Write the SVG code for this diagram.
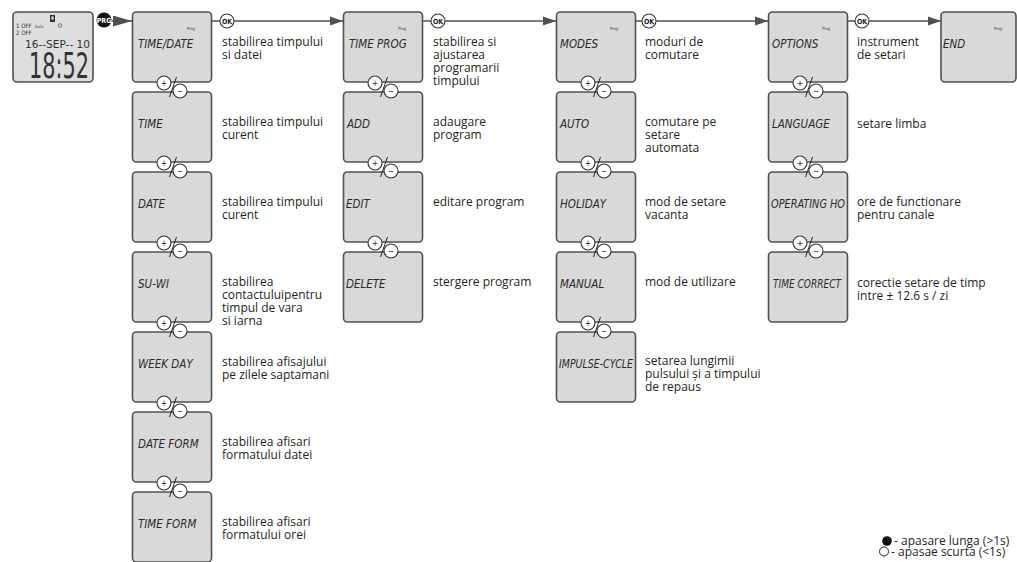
<svg xmlns="http://www.w3.org/2000/svg" xmlns:xlink="http://www.w3.org/1999/xlink" width="1017" height="562" viewBox="0 0 1017 562">
<style>
.box{fill:#d9d9d9;stroke:#505050;stroke-width:1.6}
.lbl{font-family:"DejaVu Sans Condensed","DejaVu Sans",sans-serif;font-style:italic;font-size:11.5px;fill:#2a2a2a}
.prog{font-family:"DejaVu Sans Condensed",sans-serif;font-size:4px;fill:#333}
.desc{font-family:"Open Sans","Noto Sans",sans-serif;font-size:12px;fill:#231f20}
.line{stroke:#505050;stroke-width:1.5;fill:none}
.btn{fill:#fff;stroke:#333;stroke-width:1.1}
.sym{font-family:"DejaVu Sans Condensed",sans-serif;font-size:8px;fill:#222;text-anchor:middle}
.lcd{font-family:"DejaVu Sans Condensed",sans-serif;fill:#333}
</style>
<defs>
<marker id="arr" markerUnits="userSpaceOnUse" markerWidth="13" markerHeight="10" refX="13" refY="5" orient="auto">
<path d="M0,0.5 L13,5 L0,9.5 z" fill="#505050"/>
</marker>
<marker id="arrBig" markerUnits="userSpaceOnUse" markerWidth="19" markerHeight="11" refX="19" refY="5.5" orient="auto">
<path d="M0,0 L19,5.5 L0,11 z" fill="#505050"/>
</marker>
<g id="pm">
<circle class="btn" cx="32" cy="1" r="7"/>
<text class="sym" x="32" y="3.8">+</text>
<circle class="btn" cx="48" cy="9" r="7"/>
<text class="sym" x="48" y="11.8">−</text>
<line x1="37.5" y1="15" x2="44.5" y2="-5" stroke="#222" stroke-width="1"/>
</g>
<g id="ok">
<circle class="btn" cx="0" cy="0" r="7"/>
<text x="0" y="2.5" font-family="DejaVu Sans Condensed,sans-serif" font-size="7" font-weight="bold" fill="#222" text-anchor="middle">OK</text>
</g>
</defs>
<rect width="1017" height="562" fill="#fff"/>

<g id="device">
<rect x="13" y="12" width="80" height="70" rx="4" fill="#dedede" stroke="#505050" stroke-width="1.6"/>
<rect x="50" y="15" width="5" height="7" fill="#333"/>
<rect x="51.3" y="16.5" width="2.4" height="3" fill="#ddd"/>
<text class="lcd" x="16" y="28" font-size="6">1 OFF</text>
<text class="lcd" x="35" y="28" font-size="4">Auto</text>
<circle cx="60" cy="25.5" r="1.8" fill="none" stroke="#333" stroke-width="0.6"/>
<text class="lcd" x="16" y="35" font-size="6">2 OFF</text>
<text class="lcd" x="25" y="48" font-size="11" textLength="65" lengthAdjust="spacingAndGlyphs" fill="#555">16--SEP-- 10</text>
<text class="lcd" x="29" y="78" font-size="36" textLength="60" lengthAdjust="spacingAndGlyphs" fill="#333">18:52</text>
</g>

<g id="n-time-date">
<rect class="box" x="132.5" y="12" width="79" height="70" rx="4"/>
<text class="prog" x="187" y="30">Prog</text>
<text class="lbl" x="138" y="48">TIME/DATE</text>
<text class="desc" x="222" y="46">stabilirea timpului<tspan x="222" dy="13">si datei</tspan></text>
</g>
<g id="n-time">
<rect class="box" x="132.5" y="92" width="79" height="70" rx="4"/>
<text class="lbl" x="138" y="128">TIME</text>
<text class="desc" x="222" y="126">stabilirea timpului<tspan x="222" dy="13">curent</tspan></text>
</g>
<g id="n-date">
<rect class="box" x="132.5" y="172" width="79" height="70" rx="4"/>
<text class="lbl" x="138" y="208">DATE</text>
<text class="desc" x="222" y="206">stabilirea timpului<tspan x="222" dy="13">curent</tspan></text>
</g>
<g id="n-su-wi">
<rect class="box" x="132.5" y="252" width="79" height="70" rx="4"/>
<text class="lbl" x="138" y="288">SU-WI</text>
<text class="desc" x="222" y="286">stabilirea<tspan x="222" dy="13">contactuluipentru</tspan><tspan x="222" dy="13">timpul de vara</tspan><tspan x="222" dy="13">si iarna</tspan></text>
</g>
<g id="n-week-day">
<rect class="box" x="132.5" y="332" width="79" height="70" rx="4"/>
<text class="lbl" x="138" y="368">WEEK DAY</text>
<text class="desc" x="222" y="366">stabilirea afisajului<tspan x="222" dy="13">pe zilele saptamani</tspan></text>
</g>
<g id="n-date-form">
<rect class="box" x="132.5" y="412" width="79" height="70" rx="4"/>
<text class="lbl" x="138" y="448">DATE FORM</text>
<text class="desc" x="222" y="446">stabilirea afisari<tspan x="222" dy="13">formatului datei</tspan></text>
</g>
<g id="n-time-form">
<rect class="box" x="132.5" y="492" width="79" height="70" rx="4"/>
<text class="lbl" x="138" y="528">TIME FORM</text>
<text class="desc" x="222" y="526">stabilirea afisari<tspan x="222" dy="13">formatului orei</tspan></text>
</g>

<g id="n-time-prog">
<rect class="box" x="343.5" y="12" width="79" height="70" rx="4"/>
<text class="prog" x="398" y="30">Prog</text>
<text class="lbl" x="349" y="48">TIME PROG</text>
<text class="desc" x="433" y="46">stabilirea si<tspan x="433" dy="13">ajustarea</tspan><tspan x="433" dy="13">programarii</tspan><tspan x="433" dy="13">timpului</tspan></text>
</g>
<g id="n-add">
<rect class="box" x="343.5" y="92" width="79" height="70" rx="4"/>
<text class="lbl" x="347" y="128">ADD</text>
<text class="desc" x="433" y="126">adaugare<tspan x="433" dy="13">program</tspan></text>
</g>
<g id="n-edit">
<rect class="box" x="343.5" y="172" width="79" height="70" rx="4"/>
<text class="lbl" x="346" y="208">EDIT</text>
<text class="desc" x="433" y="206">editare program</text>
</g>
<g id="n-delete">
<rect class="box" x="343.5" y="252" width="79" height="70" rx="4"/>
<text class="lbl" x="346" y="288">DELETE</text>
<text class="desc" x="433" y="286">stergere program</text>
</g>

<g id="n-modes">
<rect class="box" x="556.5" y="12" width="79" height="70" rx="4"/>
<text class="prog" x="610" y="30">Prog</text>
<text class="lbl" x="560" y="48">MODES</text>
<text class="desc" x="645" y="46">moduri de<tspan x="645" dy="13">comutare</tspan></text>
</g>
<g id="n-auto">
<rect class="box" x="556.5" y="92" width="79" height="70" rx="4"/>
<text class="lbl" x="560" y="128">AUTO</text>
<text class="desc" x="645" y="126">comutare pe<tspan x="645" dy="13">setare</tspan><tspan x="645" dy="13">automata</tspan></text>
</g>
<g id="n-holiday">
<rect class="box" x="556.5" y="172" width="79" height="70" rx="4"/>
<text class="lbl" x="560" y="208">HOLIDAY</text>
<text class="desc" x="645" y="206">mod de setare<tspan x="645" dy="13">vacanta</tspan></text>
</g>
<g id="n-manual">
<rect class="box" x="556.5" y="252" width="79" height="70" rx="4"/>
<text class="lbl" x="560" y="288">MANUAL</text>
<text class="desc" x="645" y="286">mod de utilizare</text>
</g>
<g id="n-impulse-cycle">
<rect class="box" x="556.5" y="332" width="79" height="70" rx="4"/>
<text class="lbl" x="559" y="368" textLength="74" lengthAdjust="spacingAndGlyphs">IMPULSE-CYCLE</text>
<text class="desc" x="645" y="365">setarea lungimii<tspan x="645" dy="13">pulsului și a timpului</tspan><tspan x="645" dy="13">de repaus</tspan></text>
</g>

<g id="n-options">
<rect class="box" x="768.5" y="12" width="79" height="70" rx="4"/>
<text class="prog" x="822" y="30">Prog</text>
<text class="lbl" x="772" y="48">OPTIONS</text>
<text class="desc" x="857" y="46">instrument<tspan x="857" dy="13">de setari</tspan></text>
</g>
<g id="n-language">
<rect class="box" x="768.5" y="92" width="79" height="70" rx="4"/>
<text class="lbl" x="772" y="128">LANGUAGE</text>
<text class="desc" x="857" y="128">setare limba</text>
</g>
<g id="n-operating">
<rect class="box" x="768.5" y="172" width="79" height="70" rx="4"/>
<text class="lbl" x="771" y="208" textLength="74" lengthAdjust="spacingAndGlyphs">OPERATING HO</text>
<text class="desc" x="857" y="206">ore de functionare<tspan x="857" dy="13">pentru canale</tspan></text>
</g>
<g id="n-time-correct">
<rect class="box" x="768.5" y="252" width="79" height="70" rx="4"/>
<text class="lbl" x="773" y="288" textLength="68" lengthAdjust="spacingAndGlyphs">TIME CORRECT</text>
<text class="desc" x="857" y="287">corectie setare de timp<tspan x="857" dy="13">intre ± 12.6 s / zi</tspan></text>
</g>

<g id="n-end">
<rect class="box" x="941" y="12" width="75" height="70" rx="4"/>
<text class="prog" x="994" y="30">Prog</text>
<text class="lbl" x="943" y="48">END</text>
</g>

<g id="connectors">
<circle cx="104" cy="20" r="7.5" fill="#111"/>
<text x="104" y="22.5" font-family="DejaVu Sans Condensed,sans-serif" font-size="7" font-weight="bold" fill="#fff" text-anchor="middle">PRG</text>
<line class="line" x1="112" y1="21" x2="132" y2="21" marker-end="url(#arrBig)"/>
<line class="line" x1="212" y1="21" x2="343" y2="21" marker-end="url(#arr)"/>
<line class="line" x1="423" y1="21" x2="556" y2="21" marker-end="url(#arr)"/>
<line class="line" x1="635" y1="21" x2="768" y2="21" marker-end="url(#arr)"/>
<line class="line" x1="847" y1="21" x2="941" y2="21" marker-end="url(#arr)"/>
<use xlink:href="#ok" x="227" y="21"/>
<use xlink:href="#ok" x="438" y="21"/>
<use xlink:href="#ok" x="649" y="21"/>
<use xlink:href="#ok" x="862" y="21"/>
<use xlink:href="#pm" x="132" y="82"/>
<use xlink:href="#pm" x="132" y="162"/>
<use xlink:href="#pm" x="132" y="242"/>
<use xlink:href="#pm" x="132" y="322"/>
<use xlink:href="#pm" x="132" y="402"/>
<use xlink:href="#pm" x="132" y="482"/>
<use xlink:href="#pm" x="343" y="82"/>
<use xlink:href="#pm" x="343" y="162"/>
<use xlink:href="#pm" x="343" y="242"/>
<use xlink:href="#pm" x="556" y="82"/>
<use xlink:href="#pm" x="556" y="162"/>
<use xlink:href="#pm" x="556" y="242"/>
<use xlink:href="#pm" x="556" y="322"/>
<use xlink:href="#pm" x="768" y="82"/>
<use xlink:href="#pm" x="768" y="162"/>
<use xlink:href="#pm" x="768" y="242"/>
</g>

<g id="legend">
<circle cx="887" cy="541" r="4.8" fill="#111"/>
<text class="desc" x="894" y="545">- apasare lunga (&gt;1s)</text>
<circle cx="884" cy="551.5" r="4.5" fill="#fff" stroke="#222" stroke-width="1"/>
<text class="desc" x="891" y="556">- apasae scurta (&lt;1s)</text>
</g>
</svg>
